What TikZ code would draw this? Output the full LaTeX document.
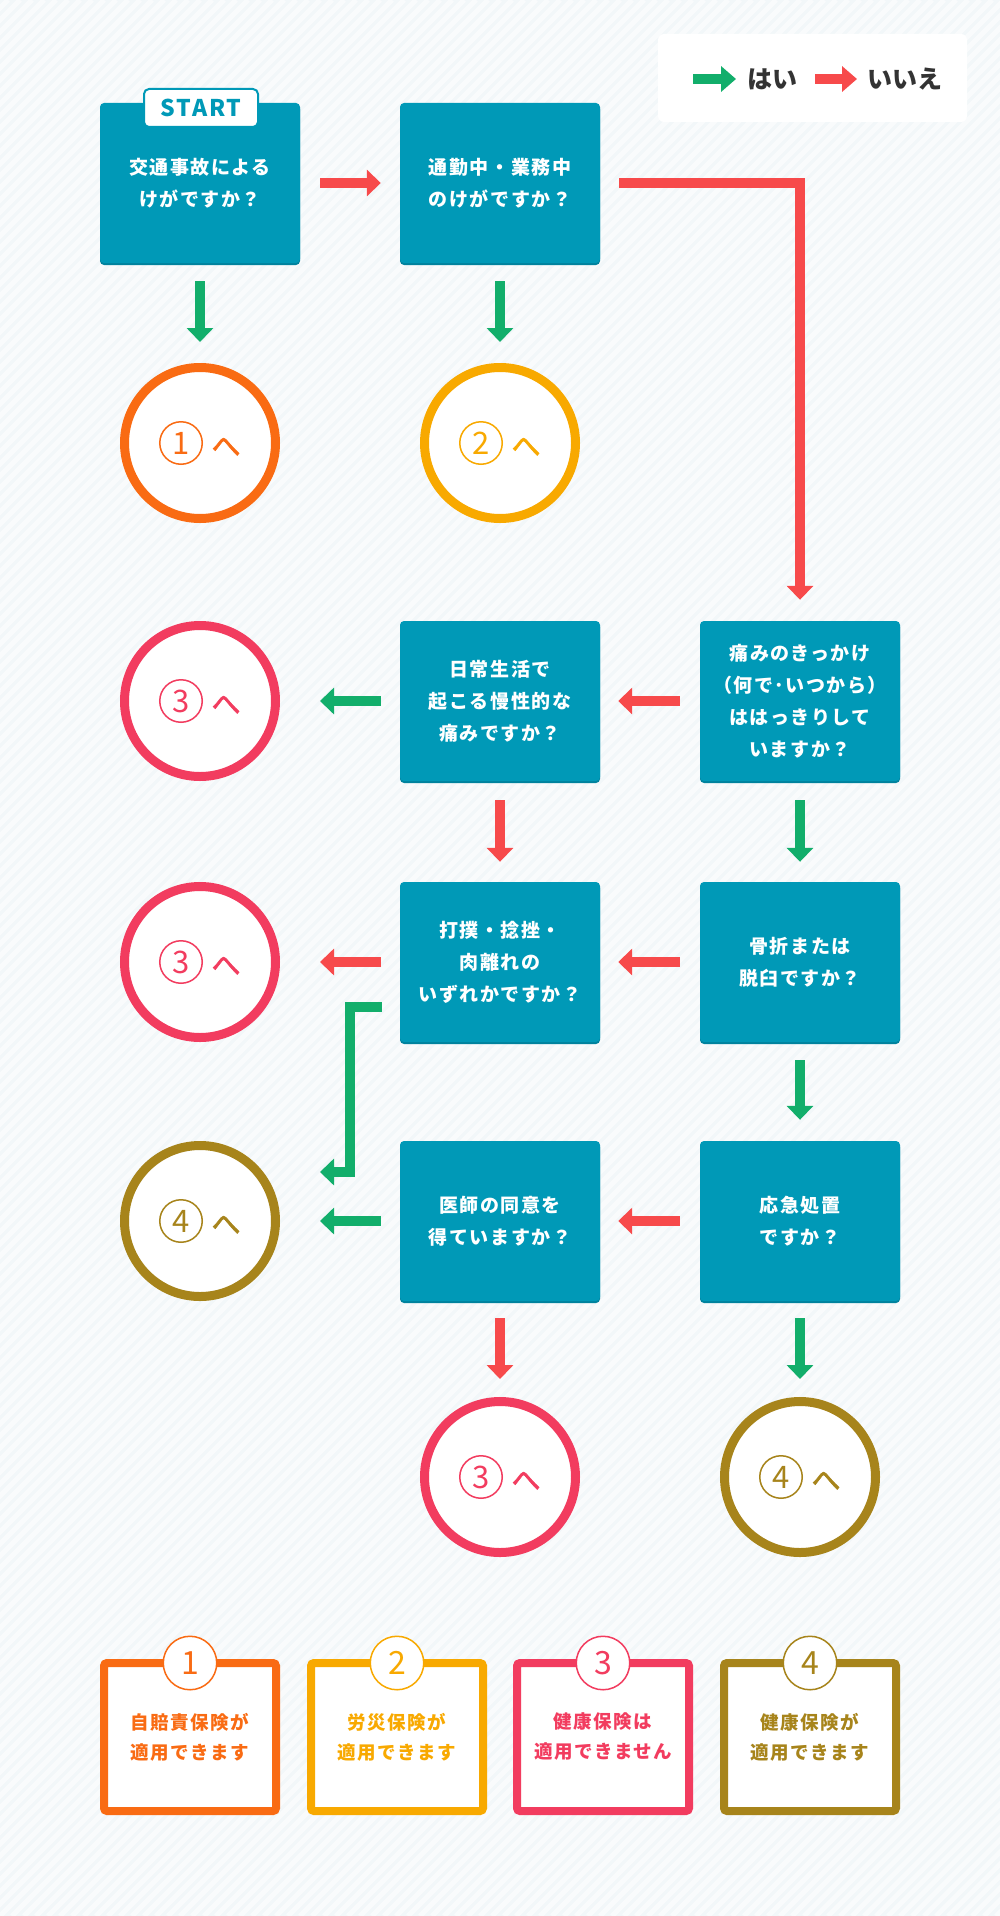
\documentclass[tikz,border=0pt]{standalone}
\usepackage{fontspec}
\newfontfamily\jp{Noto Sans CJK JP}
\newfontfamily\jpfb{Noto Sans CJK JP}[FakeBold=2]
\newfontfamily\jpls{Noto Sans CJK JP}[LetterSpace=8]
\usetikzlibrary{arrows.meta,calc,shadows}
\definecolor{boxc}{HTML}{0099B7}
\definecolor{boxsh}{HTML}{00829D}
\definecolor{orc}{HTML}{F96B13}
\definecolor{ylc}{HTML}{F8A900}
\definecolor{pkc}{HTML}{F23C5F}
\definecolor{olc}{HTML}{A7841B}
\definecolor{grc}{HTML}{12AE6B}
\definecolor{rdc}{HTML}{F74A4B}
\definecolor{txc}{HTML}{333333}
\definecolor{bgc}{HTML}{F2F7F9}
\definecolor{stc}{HTML}{F9FBFC}
\begin{document}
\begin{tikzpicture}[x=1pt,y=-1pt,
  qbox/.style={rectangle, rounded corners=4pt, fill=boxc, minimum width=200pt, minimum height=160pt, inner sep=0pt, text=white, align=center, font=\jpls\bfseries\fontsize{19}{32}\selectfont, general shadow={fill=boxsh, shadow yshift=-2pt}},
  ring/.style={circle, draw=#1, line width=9pt, fill=white, minimum size=151pt, inner sep=0pt},
  numc/.style={circle, draw=#1, line width=1.5pt, minimum size=42.5pt, inner sep=0pt, text=#1, font=\jp\fontsize{31}{31}\selectfont},
  he/.style={text=#1, inner sep=0pt, font=\jpfb\fontsize{29}{29}\selectfont},
  yesarrow/.style={draw=grc, line width=10pt, -{Triangle[width=26pt,length=14pt]}},
  noarrow/.style={draw=rdc, line width=10pt, -{Triangle[width=26pt,length=14pt]}},
  rbox/.style={rectangle, rounded corners=3pt, draw=#1, line width=8pt, fill=white, minimum width=172pt, minimum height=148pt, outer sep=0pt, inner sep=0pt, text=#1, align=center, font=\jpls\bfseries\fontsize{18.5}{30}\selectfont},
  bnum/.style={circle, draw=#1, line width=1.5pt, fill=white, minimum size=53.5pt, inner sep=0pt, text=#1, font=\jp\fontsize{32}{32}\selectfont},
  legtext/.style={font=\jp\bfseries\fontsize{25}{25}\selectfont, text=txc, anchor=west, inner sep=0pt}
]
\useasboundingbox (0,0) rectangle (1000,1916);
\fill[bgc] (0,0) rectangle (1000,1916);
\begin{scope}
\clip (0,0) rectangle (1000,1916);
\foreach \i in {-1920,-1908,...,1000} \draw[stc, line width=5pt] (\i,1916) -- ++(1916,-1916);
\end{scope}

% legend
\node[fill=white, rounded corners=6pt, minimum width=309pt, minimum height=88pt] (leg) at (812.5,78) {};
\node[legtext] (yes) at (747,79) {はい};
\node[legtext] (no) at (867,79) {いいえ};
\draw[draw=grc, line width=10pt, -{Triangle[width=25pt,length=15pt]}] ($(yes.west)+(-54,0)$) -- ($(yes.west)+(-11,0)$);
\draw[draw=rdc, line width=10pt, -{Triangle[width=25pt,length=15pt]}] ($(no.west)+(-52,0)$) -- ($(no.west)+(-10,0)$);

% question boxes
\node[qbox] (b1) at (200,183) {交通事故による\\けがですか？};
\node[qbox] (b2) at (500,183) {通勤中・業務中\\のけがですか？};
\node[qbox] (b3) at (500,701) {日常生活で\\起こる慢性的な\\痛みですか？};
\node[qbox] (b4) at (800,701) {痛みのきっかけ\\（何で･いつから）\\ははっきりして\\いますか？};
\node[qbox] (b5) at (500,962) {打撲・捻挫・\\肉離れの\\いずれかですか？};
\node[qbox] (b6) at (800,962) {骨折または\\脱臼ですか？};
\node[qbox] (b7) at (500,1221) {医師の同意を\\得ていますか？};
\node[qbox] (b8) at (800,1221) {応急処置\\ですか？};

\node[fill=white, draw=boxc, line width=2pt, rounded corners=5pt, minimum width=114pt, minimum height=38pt, inner sep=0pt, text=boxc, font=\jpls\bfseries\fontsize{23}{23}\selectfont] (start) at (201,108) {START};

% result rings
\node[ring=orc] (c1) at (200,443) {};
\node[ring=ylc] (c2) at (500,443) {};
\node[ring=pkc] (c3) at (200,701) {};
\node[ring=pkc] (c4) at (200,962) {};
\node[ring=olc] (c5) at (200,1221) {};
\node[ring=pkc] (c6) at (500,1477) {};
\node[ring=olc] (c7) at (800,1477) {};
\foreach \c/\d/\col in {c1/1/orc, c2/2/ylc, c3/3/pkc, c4/3/pkc, c5/4/olc, c6/3/pkc, c7/4/olc}{
  \node[numc=\col] (n\c) at ($(\c.center)+(-19,0)$) {\d};
  \node[he=\col] (h\c) at ($(\c.center)+(26,4)$) {へ};
}

% connectors
\draw[noarrow] ($(b1.east)+(20,0)$) -- ($(b2.west)+(-19,0)$);
\draw[yesarrow] ($(b1.south)+(0,18)$) -- ($(c1.north)+(0,-21)$);
\draw[yesarrow] ($(b2.south)+(0,18)$) -- ($(c2.north)+(0,-21)$);
\draw[noarrow] ($(b2.east)+(19,0)$) -| ($(b4.north)+(0,-21)$);
\draw[noarrow] ($(b4.west)+(-20,0)$) -- ($(b3.east)+(18,0)$);
\draw[yesarrow] ($(b3.west)+(-19,0)$) -- ($(c3.east)+(40,0)$);
\draw[noarrow] ($(b3.south)+(0,19)$) -- ($(b5.north)+(0,-20)$);
\draw[yesarrow] ($(b4.south)+(0,19)$) -- ($(b6.north)+(0,-20)$);
\draw[noarrow] ($(b6.west)+(-20,0)$) -- ($(b5.east)+(18,0)$);
\draw[noarrow] ($(b5.west)+(-19,0)$) -- ($(c4.east)+(40,0)$);
\draw[yesarrow] ($(b5.west)+(-18,45)$) -- ++(-32,0) |- ($(c5.east)+(40,-49)$);
\draw[yesarrow] ($(b6.south)+(0,18)$) -- ($(b8.north)+(0,-21)$);
\draw[noarrow] ($(b8.west)+(-20,0)$) -- ($(b7.east)+(18,0)$);
\draw[yesarrow] ($(b7.west)+(-19,0)$) -- ($(c5.east)+(40,0)$);
\draw[noarrow] ($(b7.south)+(0,17)$) -- ($(c6.north)+(0,-18)$);
\draw[yesarrow] ($(b8.south)+(0,17)$) -- ($(c7.north)+(0,-18)$);

% summary boxes
\node[rbox=orc] (k1) at (190,1737) {自賠責保険が\\適用できます};
\node[rbox=ylc] (k2) at (397,1737) {労災保険が\\適用できます};
\node[rbox=pkc] (k3) at (603,1737) {健康保険は\\適用できません};
\node[rbox=olc] (k4) at (810,1737) {健康保険が\\適用できます};
\node[bnum=orc] (m1) at (k1.north) {1};
\node[bnum=ylc] (m2) at (k2.north) {2};
\node[bnum=pkc] (m3) at (k3.north) {3};
\node[bnum=olc] (m4) at (k4.north) {4};
\end{tikzpicture}
\end{document}
